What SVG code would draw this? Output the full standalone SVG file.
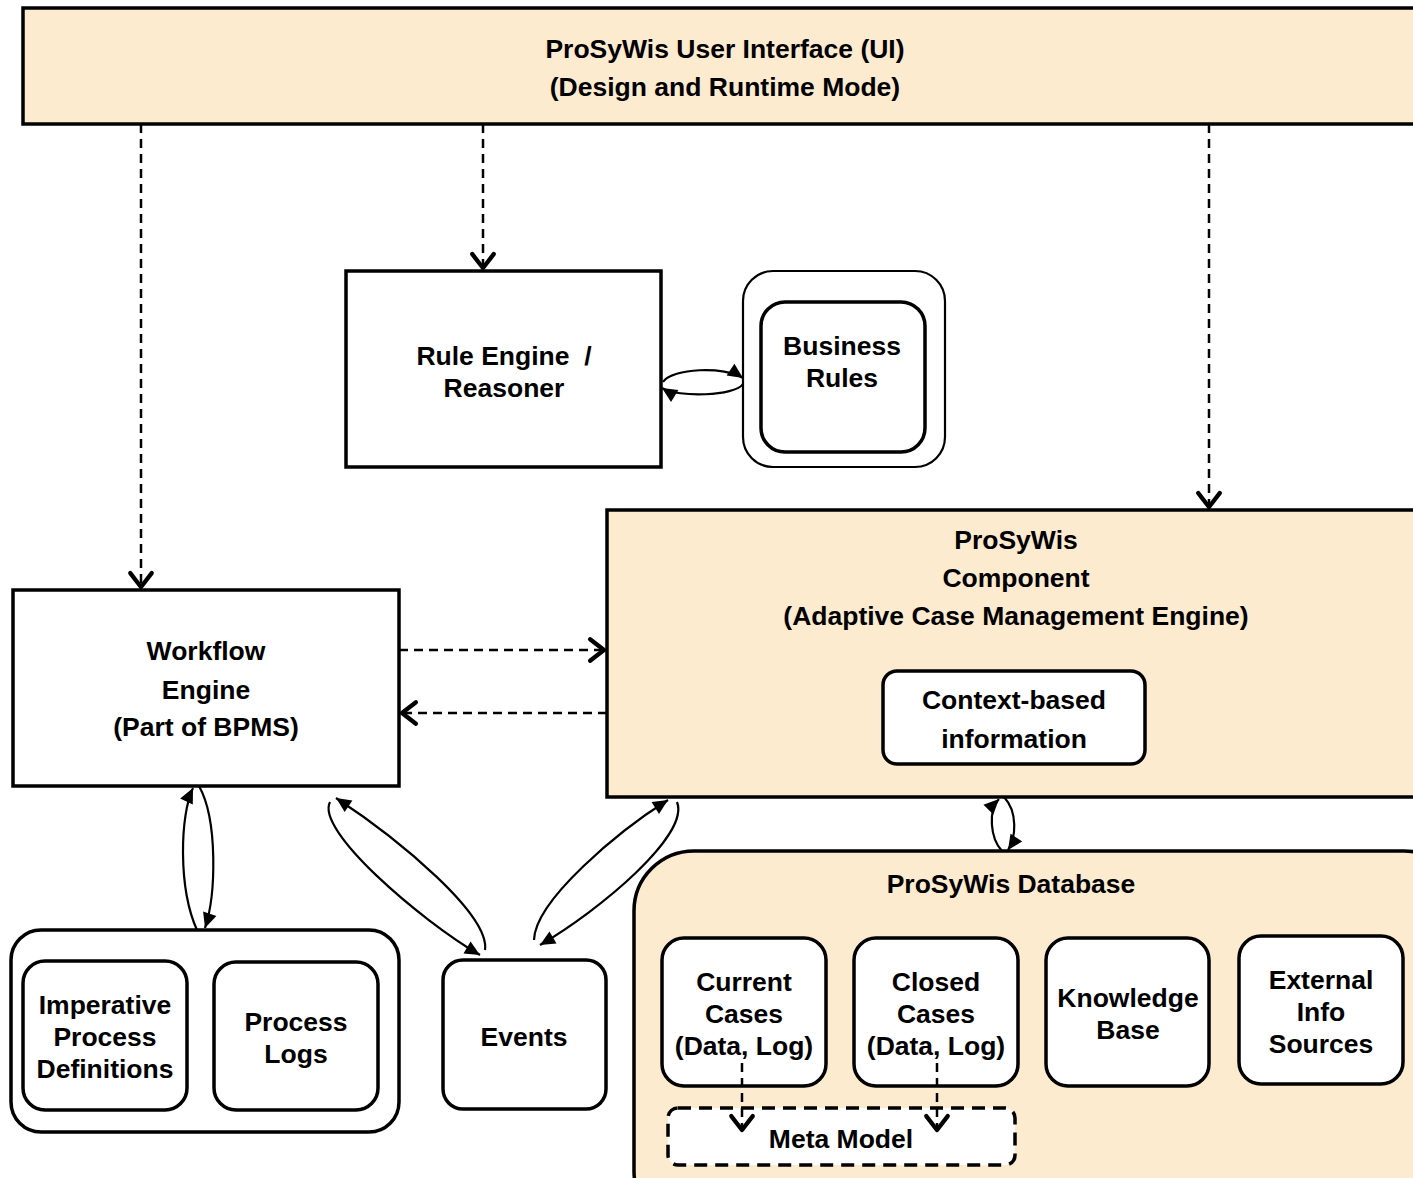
<svg xmlns="http://www.w3.org/2000/svg" width="1413" height="1178" viewBox="0 0 1413 1178">
<defs>
<style>
.t{font-family:"Liberation Sans",Arial,sans-serif;font-weight:bold;font-size:26.5px;fill:#000;text-anchor:middle}
.peach{fill:#FDEBD0;stroke:#000;stroke-width:3.5}
.box{fill:#fff;stroke:#000;stroke-width:3.5}
.thin{fill:#fff;stroke:#000;stroke-width:2.2}
.dash{fill:none;stroke:#000;stroke-width:2.5;stroke-dasharray:9,6}
.curve{fill:none;stroke:#000;stroke-width:2.2}
</style>
<marker id="open" markerUnits="userSpaceOnUse" markerWidth="30" markerHeight="30" viewBox="-16 -14 19 28" refX="0" refY="0" orient="auto">
<path d="M-13,-10 L0,0 L-13,10" fill="none" stroke="#000" stroke-width="4" stroke-linecap="round" stroke-linejoin="round"/>
</marker>
<marker id="fill" markerUnits="userSpaceOnUse" markerWidth="18" markerHeight="18" viewBox="-16 -9 18 18" refX="0" refY="0" orient="auto">
<path d="M-15,-7 L0,0 L-15,7 Z" fill="#000"/>
</marker>
</defs>

<g id="ui">
<rect class="peach" x="23" y="8" width="1400" height="116"/>
<text class="t" x="725" y="58">ProSyWis User Interface (UI)</text>
<text class="t" x="725" y="96">(Design and Runtime Mode)</text>
</g>

<g id="rule-engine">
<rect class="box" x="346" y="271" width="315" height="196"/>
<text class="t" x="504" y="365" xml:space="preserve">Rule Engine  /</text>
<text class="t" x="504" y="397">Reasoner</text>
</g>

<g id="business-rules">
<rect class="thin" x="743" y="271" width="202" height="196" rx="30"/>
<rect class="box" x="761" y="302" width="164" height="150" rx="24"/>
<text class="t" x="842" y="355">Business</text>
<text class="t" x="842" y="387">Rules</text>
</g>

<g id="workflow-engine">
<rect class="box" x="13" y="590" width="386" height="196"/>
<text class="t" x="206" y="660">Workflow</text>
<text class="t" x="206" y="699">Engine</text>
<text class="t" x="206" y="736">(Part of BPMS)</text>
</g>

<g id="component">
<rect class="peach" x="607" y="510" width="816" height="287"/>
<text class="t" x="1016" y="549">ProSyWis</text>
<text class="t" x="1016" y="587">Component</text>
<text class="t" x="1016" y="625">(Adaptive Case Management Engine)</text>
</g>

<g id="context-info">
<rect class="box" x="883" y="671" width="262" height="93" rx="14"/>
<text class="t" x="1014" y="709">Context-based</text>
<text class="t" x="1014" y="748">information</text>
</g>

<g id="process-group">
<rect class="box" x="11" y="930" width="388" height="202" rx="30"/>
</g>

<g id="imperative">
<rect class="box" x="23" y="961" width="164" height="149" rx="22"/>
<text class="t" x="105" y="1014">Imperative</text>
<text class="t" x="105" y="1046">Process</text>
<text class="t" x="105" y="1078">Definitions</text>
</g>

<g id="process-logs">
<rect class="box" x="214" y="962" width="164" height="148" rx="22"/>
<text class="t" x="296" y="1031">Process</text>
<text class="t" x="296" y="1063">Logs</text>
</g>

<g id="events">
<rect class="box" x="443" y="960" width="163" height="149" rx="20"/>
<text class="t" x="524" y="1046">Events</text>
</g>

<g id="database">
<rect class="peach" x="634" y="851" width="830" height="380" rx="60"/>
<text class="t" x="1011" y="893">ProSyWis Database</text>
</g>

<g id="current-cases">
<rect class="box" x="662" y="938" width="164" height="148" rx="22"/>
<text class="t" x="744" y="991">Current</text>
<text class="t" x="744" y="1023">Cases</text>
<text class="t" x="744" y="1055">(Data, Log)</text>
</g>

<g id="closed-cases">
<rect class="box" x="854" y="938" width="164" height="148" rx="22"/>
<text class="t" x="936" y="991">Closed</text>
<text class="t" x="936" y="1023">Cases</text>
<text class="t" x="936" y="1055">(Data, Log)</text>
</g>

<g id="knowledge-base">
<rect class="box" x="1046" y="938" width="163" height="148" rx="22"/>
<text class="t" x="1128" y="1007">Knowledge</text>
<text class="t" x="1128" y="1039">Base</text>
</g>

<g id="external-info">
<rect class="box" x="1239" y="936" width="164" height="148" rx="22"/>
<text class="t" x="1321" y="989">External</text>
<text class="t" x="1321" y="1021">Info</text>
<text class="t" x="1321" y="1053">Sources</text>
</g>

<g id="meta-model">
<rect x="668" y="1108" width="347" height="57" rx="10" fill="#fff" stroke="#000" stroke-width="3.5" stroke-dasharray="13,8"/>
<text class="t" x="841" y="1148">Meta Model</text>
</g>

<g id="connectors">
<path class="dash" d="M141,124 V587" marker-end="url(#open)"/>
<path class="dash" d="M483,124 V268" marker-end="url(#open)"/>
<path class="dash" d="M1209,124 V507" marker-end="url(#open)"/>
<path class="dash" d="M399,650 H604" marker-end="url(#open)"/>
<path class="dash" d="M607,713 H402" marker-end="url(#open)"/>
<path class="dash" d="M742,1063 V1130" marker-end="url(#open)"/>
<path class="dash" d="M937,1063 V1130" marker-end="url(#open)"/>

<path class="curve" d="M663,382 C672,368 725,366 743,378" marker-end="url(#fill)"/>
<path class="curve" d="M743,384 C735,396 678,398 662,388" marker-end="url(#fill)"/>

<path class="curve" d="M197,930 C178,888 180,815 193,788" marker-end="url(#fill)"/>
<path class="curve" d="M199,786 C218,820 216,895 205,928" marker-end="url(#fill)"/>

<path class="curve" d="M1002,851 C990,838 988,810 999,799" marker-end="url(#fill)"/>
<path class="curve" d="M1004,797 C1018,812 1016,838 1008,850" marker-end="url(#fill)"/>

<path class="curve" d="M330,802 C315,830 420,920 480,955" marker-end="url(#fill)"/>
<path class="curve" d="M485,950 C490,915 400,840 336,798" marker-end="url(#fill)"/>

<path class="curve" d="M534,940 C535,900 620,830 668,800" marker-end="url(#fill)"/>
<path class="curve" d="M677,802 C690,835 600,910 540,945" marker-end="url(#fill)"/>
</g>
</svg>
